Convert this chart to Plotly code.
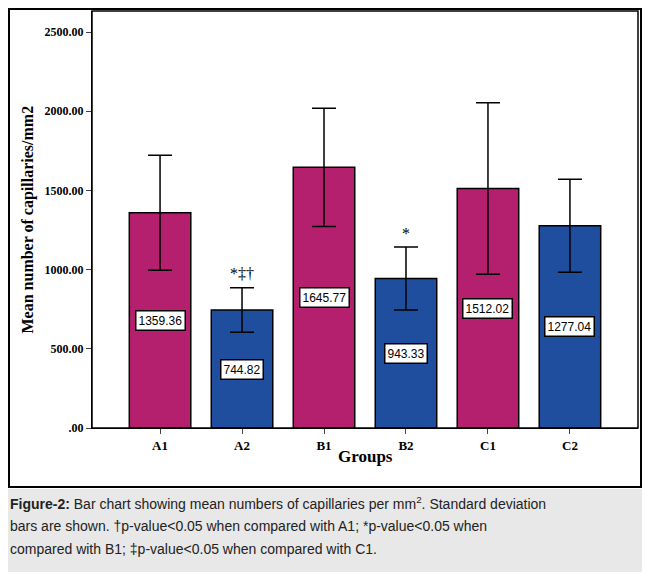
import plotly.graph_objects as go

# Data
groups = ["A1", "A2", "B1", "B2", "C1", "C2"]
means = [1359.36, 744.82, 1645.77, 943.33, 1512.02, 1277.04]
sds = [363, 141, 373, 199, 541, 294]
colors = ["#B5206E", "#1F4E9F", "#B5206E", "#1F4E9F", "#B5206E", "#1F4E9F"]
sig_marks = ["", "*‡†", "", "*", "", ""]
tick_vals = [0, 500, 1000, 1500, 2000, 2500]
tick_text = [".00", "500.00", "1000.00", "1500.00", "2000.00", "2500.00"]

# page has an 8px body margin, so the figure is a bit smaller than the window
O = 8
W, H = 650 - 2 * O, 580 - 2 * O
L, R, T, B = 92 - O, 12 - O, 11 - O, 152 - O
pw, ph = W - L - R, H - T - B


def px(x):
    return (x - O - L) / pw


def py(y):
    return (H + O - B - y) / ph


fig = go.Figure()
fig.add_trace(go.Bar(
    x=groups, y=means, width=0.75,
    marker=dict(color=colors, line=dict(color="black", width=1.5)),
    error_y=dict(type="data", array=sds, color="black", thickness=1.5, width=12),
    hoverinfo="x+y",
))

ann = []
for g, m in zip(groups, means):
    ann.append(dict(x=g, y=m / 2, text=f"{m:.2f}", showarrow=False,
                    font=dict(family="Liberation Sans, Arial", size=12, color="black"),
                    bgcolor="white", bordercolor="black", borderwidth=1.5, borderpad=2))
for g, m, s, mark in zip(groups, means, sds, sig_marks):
    if mark:
        ann.append(dict(x=g, y=m + s, text=mark, showarrow=False, yshift=14,
                        font=dict(family="Liberation Serif", size=16, color="black")))

# caption
cap_font = dict(family="Liberation Sans, Arial", size=14, color="#222")
cap_lines = [
    "<b>Figure-2:</b> Bar chart showing mean numbers of capillaries per mm<sup>2</sup>. Standard deviation",
    "bars are shown. †p-value<0.05 when compared with A1; *p-value<0.05 when",
    "compared with B1; ‡p-value<0.05 when compared with C1.",
]
for i, line in enumerate(cap_lines):
    ann.append(dict(xref="paper", yref="paper", x=px(8), y=py(503 + i * 23), text=line,
                    showarrow=False, xanchor="left", yanchor="middle", align="left", font=cap_font))

ann.append(dict(xref="paper", yref="paper", x=px(365), y=py(468), text="<b>Groups</b>",
                showarrow=False, font=dict(family="Liberation Serif", size=17, color="black")))
ann.append(dict(xref="paper", yref="paper", x=px(16), y=0.5, text="<b>Mean number of capillaries/mm2</b>",
                textangle=-90, showarrow=False, font=dict(family="Liberation Serif", size=16, color="black")))

shapes = [
    dict(type="rect", xref="paper", yref="paper", x0=px(9), x1=px(641), y0=py(487), y1=py(9),
         line=dict(color="black", width=2)),
    dict(type="rect", xref="paper", yref="paper", x0=px(8), x1=px(642), y0=py(572), y1=py(489),
         line=dict(width=0), fillcolor="#E8E8E8", layer="below"),
    dict(type="rect", xref="paper", yref="paper", x0=0, x1=1, y0=0, y1=1,
         line=dict(color="black", width=1.5)),
]

fig.update_layout(
    width=W, height=H, margin=dict(l=L, r=R, t=T, b=B),
    plot_bgcolor="white", paper_bgcolor="white", showlegend=False,
    annotations=ann, shapes=shapes,
    xaxis=dict(range=[-0.83, 5.83], showgrid=False, ticks="outside", ticklen=5,
               tickvals=groups, ticktext=[f"<b>{g}</b>" for g in groups],
               tickfont=dict(family="Liberation Serif", size=13, color="black"), linecolor="black"),
    yaxis=dict(range=[0, 2633], showgrid=False, zeroline=False, ticks="outside", ticklen=5,
               tickvals=tick_vals, ticktext=[f"<b>{t}</b>" for t in tick_text],
               tickfont=dict(family="Liberation Serif", size=12, color="black"), linecolor="black"),
)

fig.write_html("out.html")
